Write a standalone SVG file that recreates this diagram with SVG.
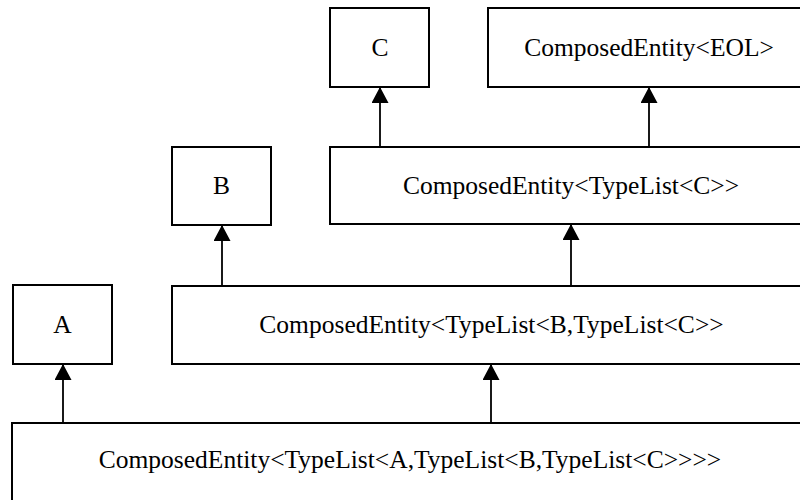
<svg xmlns="http://www.w3.org/2000/svg" width="800" height="500" viewBox="0 0 800 500">
<style>
.box{fill:#fff;stroke:#000;stroke-width:2}
.lbl{font-family:"Liberation Serif","Times New Roman",serif;font-size:25.5px;fill:#000;text-anchor:middle}
.edge{stroke:#000;stroke-width:1.8;fill:none;marker-end:url(#ah)}
</style>
<defs>
<marker id="ah" viewBox="0 0 16 17" refX="16" refY="8.5" markerWidth="16" markerHeight="17" markerUnits="userSpaceOnUse" orient="auto">
<path d="M0,0 L16,8.5 L0,17 z" fill="#000"/>
</marker>
</defs>
<rect width="800" height="500" fill="#fff"/>
<g id="connectors">
<line class="edge" x1="380" y1="147" x2="380" y2="87"/>
<line class="edge" x1="649" y1="147" x2="649" y2="87"/>
<line class="edge" x1="222" y1="286" x2="222" y2="225"/>
<line class="edge" x1="571" y1="285" x2="571" y2="224"/>
<line class="edge" x1="63" y1="423" x2="63" y2="364"/>
<line class="edge" x1="491" y1="423" x2="491" y2="364"/>
</g>
<g id="nodeC"><rect class="box" x="330" y="8" width="99" height="79"/><text class="lbl" x="380" y="55.5">C</text></g>
<g id="nodeEOL"><rect class="box" x="488" y="8" width="324" height="79"/><text class="lbl" x="649" y="55.5">ComposedEntity&lt;EOL&gt;</text></g>
<g id="nodeB"><rect class="box" x="172" y="147" width="99" height="78"/><text class="lbl" x="221.5" y="194">B</text></g>
<g id="nodeTLC"><rect class="box" x="330" y="147" width="482" height="77"/><text class="lbl" x="571" y="193.5">ComposedEntity&lt;TypeList&lt;C&gt;&gt;</text></g>
<g id="nodeA"><rect class="box" x="13" y="285" width="99" height="79"/><text class="lbl" x="62.5" y="332.5">A</text></g>
<g id="nodeTLB"><rect class="box" x="172" y="286" width="640" height="78"/><text class="lbl" x="491.5" y="332.5">ComposedEntity&lt;TypeList&lt;B,TypeList&lt;C&gt;&gt;</text></g>
<g id="nodeTLA"><rect class="box" x="12" y="423" width="800" height="90"/><text class="lbl" x="410" y="468">ComposedEntity&lt;TypeList&lt;A,TypeList&lt;B,TypeList&lt;C&gt;&gt;&gt;&gt;</text></g>
</svg>
